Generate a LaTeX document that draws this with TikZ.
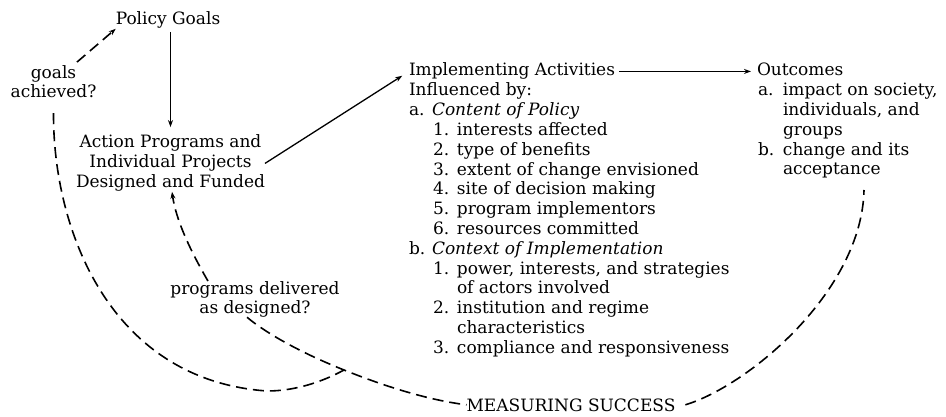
\documentclass[tikz,border=0pt]{standalone}
\usepackage{fontspec}
\setmainfont{DejaVu Serif}
\usetikzlibrary{arrows.meta}
\newcommand{\lbA}[1]{\makebox[23pt][l]{#1}}
\newcommand{\lbB}[1]{\hspace*{24pt}\makebox[24pt][l]{#1}}
\newcommand{\cont}{\hspace*{48pt}}
\newcommand{\lbO}[1]{\makebox[25pt][l]{#1}}
\newcommand{\contO}{\hspace*{25pt}}
\begin{document}
\begin{tikzpicture}[x=1pt,y=-1pt,
  txt/.style={inner sep=0pt, outer sep=0pt, font=\fontsize{17}{19.8}\selectfont},
  arr/.style={line width=1.3pt, -{Stealth[length=7pt,width=5pt]}},
  dsh/.style={line width=1.6pt, dash pattern=on 11pt off 6pt},
]
\useasboundingbox (0,0) rectangle (946,417);
\fill[white] (0,0) rectangle (946,417);

% text nodes (multi-line nodes are placed by the baseline of their last line)
\node[txt, anchor=base] (pg) at (168,25) {Policy Goals};
\node[txt, anchor=base, align=center, font=\fontsize{17}{19}\selectfont] (ga) at (53.5,98) {goals\\achieved?};
\node[txt, anchor=base, align=center, font=\fontsize{17}{20}\selectfont] (ap) at (170.5,188) {Action Programs and\\Individual Projects\\Designed and Funded};
\node[txt, anchor=base, align=center, font=\fontsize{17}{19.5}\selectfont] (pd) at (255,313.5) {programs delivered\\as designed?};
\node[txt, anchor=base] (ms) at (571,411) {MEASURING SUCCESS};
\node[txt, anchor=base west] (ia) at (409,76) {Implementing Activities};
\node[txt, anchor=base west, align=left] (ib) at (409,353.2) {Influenced by:\\
\lbA{a.}\textit{Content of Policy}\\
\lbB{1.}interests affected\\
\lbB{2.}type of benefits\\
\lbB{3.}extent of change envisioned\\
\lbB{4.}site of decision making\\
\lbB{5.}program implementors\\
\lbB{6.}resources committed\\
\lbA{b.}\textit{Context of Implementation}\\
\lbB{1.}power, interests, and strategies\\
\cont of actors involved\\
\lbB{2.}institution and regime\\
\cont characteristics\\
\lbB{3.}compliance and responsiveness};
\node[txt, anchor=base west] (oc) at (757,76) {Outcomes};
\node[txt, anchor=base west, align=left] (od) at (758,175) {\lbO{a.}impact on society,\\
\contO individuals, and\\
\contO groups\\
\lbO{b.}change and its\\
\contO acceptance};

\coordinate (j) at (344,370);
\coordinate (oe) at (864,190);

% solid arrows
\draw[arr, shorten <=3pt, shorten >=8pt] (pg.south -| ap.north) -- (ap.north);
\draw[arr, shorten >=8pt] (ap.east) -- (ia.west);
\draw[arr, shorten <=4pt, shorten >=6pt] (ia.east) -- (ia.east -| oc.west);

% dashed feedback
\draw[dsh, -{Stealth[length=7pt,width=5pt]}] ([shift={(23.5pt,4pt)}]ga.north) -- (pg.south west);
\draw[dsh] ([yshift=-15pt]ga.south) .. controls (53,230) and (110,380) .. (267,391)
  .. controls (295,391) and (322,382) .. (j);
\draw[dsh] ([xshift=-8pt]pd.south) .. controls (268.5,335) and (304,354) .. (j)
  .. controls (384,386) and (427.5,400) .. (ms.west);
\draw[dsh, -{Stealth[length=7pt,width=5pt]}] ([xshift=-47pt]pd.north) .. controls (190,250) and (176,220) .. ([xshift=1.5pt]ap.south);
\draw[dsh] ([xshift=10pt]ms.east) .. controls (750,385) and (862,290) .. (oe);
\end{tikzpicture}
\end{document}
